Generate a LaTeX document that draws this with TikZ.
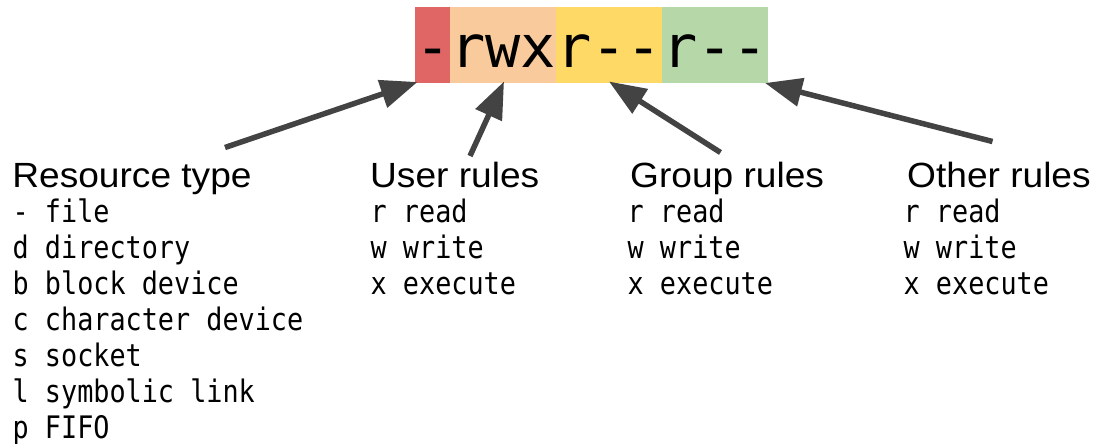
\documentclass[tikz,border=0pt]{standalone}
\usepackage{fontspec}
\setmainfont{Liberation Sans}
\newfontfamily\headfont[FakeStretch=1.06]{Liberation Sans}
\newfontfamily\smallmono[FakeStretch=0.865]{DejaVu Sans Mono}
\newfontfamily\bigmono{DejaVu Sans Mono}
\usetikzlibrary{arrows.meta}
\definecolor{segred}{HTML}{E06666}
\definecolor{segorange}{HTML}{F9CB9C}
\definecolor{segyellow}{HTML}{FFD966}
\definecolor{seggreen}{HTML}{B6D7A8}
\definecolor{arrowgray}{HTML}{434343}
\begin{document}
\begin{tikzpicture}[x=1pt,y=-1pt,
  seg/.style={draw=none, inner sep=0pt, outer sep=0pt, minimum height=76pt, anchor=north west},
  perm/.style={inner sep=0pt, anchor=base, font=\bigmono\fontsize{58.6}{60}\selectfont},
  head/.style={inner sep=0pt, anchor=base west, font=\headfont\fontsize{35}{40}\selectfont},
  item/.style={inner sep=0pt, anchor=base west, font=\smallmono\fontsize{31}{36}\selectfont},
  pointer/.style={draw=arrowgray, line width=5.5pt, -{Triangle[length=37pt,width=28pt,fill=arrowgray]}}]
\useasboundingbox (0,0) rectangle (1095,444);

% permission string segments
\node[seg, fill=segred,    minimum width=35.3pt]  (sType)  at (415,7) {};
\node[seg, fill=segorange, minimum width=105.9pt] (sUser)  at (450.3,7) {};
\node[seg, fill=segyellow, minimum width=105.9pt] (sGroup) at (556.2,7) {};
\node[seg, fill=seggreen,  minimum width=105.9pt] (sOther) at (662.1,7) {};

\node[perm] (pType)  at (432.65,68) {-};
\node[perm] (pUser)  at (503.25,68) {rwx};
\node[perm] (pGroup) at (609.15,68) {r--};
\node[perm] (pOther) at (715.05,68) {r--};

% headings
\node[head] (hType)  at (12.2,187) {Resource type};
\node[head] (hUser)  at (370,187) {User rules};
\node[head] (hGroup) at (630,187) {Group rules};
\node[head] (hOther) at (907,187) {Other rules};

% lists
\foreach \t [count=\i] in {- file,d directory,b block device,c character device,s socket,l symbolic link,p FIFO}
  \node[item] (lType\i) at (12.5,{222+36*(\i-1)}) {\t};
\foreach \t [count=\i] in {r read,w write,x execute}{
  \node[item] (lUser\i)  at (370.5,{222+36*(\i-1)}) {\t};
  \node[item] (lGroup\i) at (627.5,{222+36*(\i-1)}) {\t};
  \node[item] (lOther\i) at (903.5,{222+36*(\i-1)}) {\t};
}

% arrows
\coordinate (tailType)  at (225,147.5);
\coordinate (tipType)   at (417.5,82);
\coordinate (tailUser)  at (470,156);
\coordinate (tipUser)   at (504,81.5);
\coordinate (tailGroup) at (720.5,152.5);
\coordinate (tipGroup)  at (609,81.5);
\coordinate (tailOther) at (992.5,141.5);
\coordinate (tipOther)  at (765,83);
\draw[pointer] (tailType) -- (tipType);
\draw[pointer] (tailUser) -- (tipUser);
\draw[pointer] (tailGroup) -- (tipGroup);
\draw[pointer] (tailOther) -- (tipOther);
\end{tikzpicture}
\end{document}
